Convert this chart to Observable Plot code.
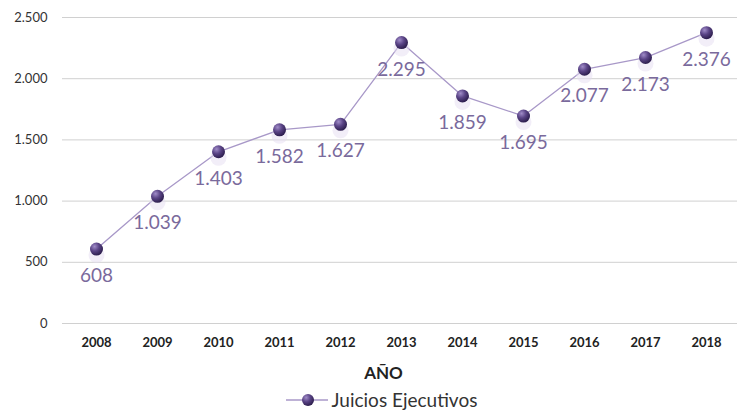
<!DOCTYPE html>
<html><head><meta charset="utf-8">
<script src="https://cdn.jsdelivr.net/npm/d3@7"></script>
<script src="https://cdn.jsdelivr.net/npm/@observablehq/plot@0.6"></script>
<style>
body{margin:0;background:#fff;font-family:Lato,"Open Sans",sans-serif;width:737px;height:414px;overflow:hidden}
#chart{height:358px}
#xl{text-align:center;font-weight:bold;font-size:17px;color:#222;height:30px;line-height:30px;padding-left:30px}
#leg{height:24px;line-height:24px;display:flex;align-items:center;justify-content:center;font-size:19px;color:#333;padding-left:26px}
</style></head>
<body>
<div id="chart"></div>
<div id="xl">AÑO</div>
<div id="leg"><svg width="44" height="16" style="margin-right:2px"><defs><radialGradient id="sph2" cx="0.35" cy="0.3" r="0.7"><stop offset="0" stop-color="#a08cc8"/><stop offset="0.5" stop-color="#5a4486"/><stop offset="1" stop-color="#2e1f4f"/></radialGradient></defs><line x1="0" x2="42" y1="8" y2="8" stroke="#a898c8" stroke-width="1.5"/><circle cx="22" cy="8" r="6" fill="url(#sph2)"/></svg><span>Juicios Ejecutivos</span></div>
<script>
const years = ["2008","2009","2010","2011","2012","2013","2014","2015","2016","2017","2018"];
const values = [608,1039,1403,1582,1627,2295,1859,1695,2077,2173,2376];
const yTicks = [0,500,1000,1500,2000,2500];

const data = years.map((y,i)=>({year:y, value:values[i]}));
const fmt = d3.format(",.0f");
const es = v => fmt(v).replace(/,/g,".");

const chart = Plot.plot({
  width: 737, height: 358,
  marginTop: 17, marginBottom: 35, marginLeft: 62, marginRight: 0,
  style: {fontFamily: "Lato, 'Open Sans', sans-serif", background: "#fff", display: "block"},
  x: {type: "point", domain: years, range: [62, 740], padding: 0.5, label: null},
  y: {domain: [0, 2500], ticks: yTicks, label: null},
  marks: [
    Plot.ruleY(yTicks, {stroke: "#d0d0d0", strokeWidth: 1}),
    Plot.axisY({ticks: yTicks, tickSize: 0, tickPadding: 15, tickFormat: es, fontSize: 13, fill: "#333", label: null}),
    Plot.axisX({tickSize: 0, tickPadding: 14, fontSize: 13, fontWeight: "bold", fill: "#222", label: null}),
    Plot.line(data, {x: "year", y: "value", stroke: "#a898c8", strokeWidth: 1.3}),
    Plot.dot(data, {x: "year", y: "value", r: 8, dy: 6, fill: "#e6def2", fillOpacity: 0.5, stroke: "none"}),
    Plot.dot(data, {x: "year", y: "value", r: 6.5, fill: "url(#sph)", stroke: "none"}),
    Plot.text(data, {x: "year", y: "value", text: d => es(d.value), dy: 27, fontSize: 19, fill: "#7a6a9c"})
  ]
});
d3.select(chart).insert("defs", ":first-child").html(
  '<radialGradient id="sph" cx="0.35" cy="0.3" r="0.7"><stop offset="0" stop-color="#a08cc8"/><stop offset="0.5" stop-color="#5a4486"/><stop offset="1" stop-color="#2e1f4f"/></radialGradient>');
document.getElementById("chart").appendChild(chart);
</script>
</body></html>
